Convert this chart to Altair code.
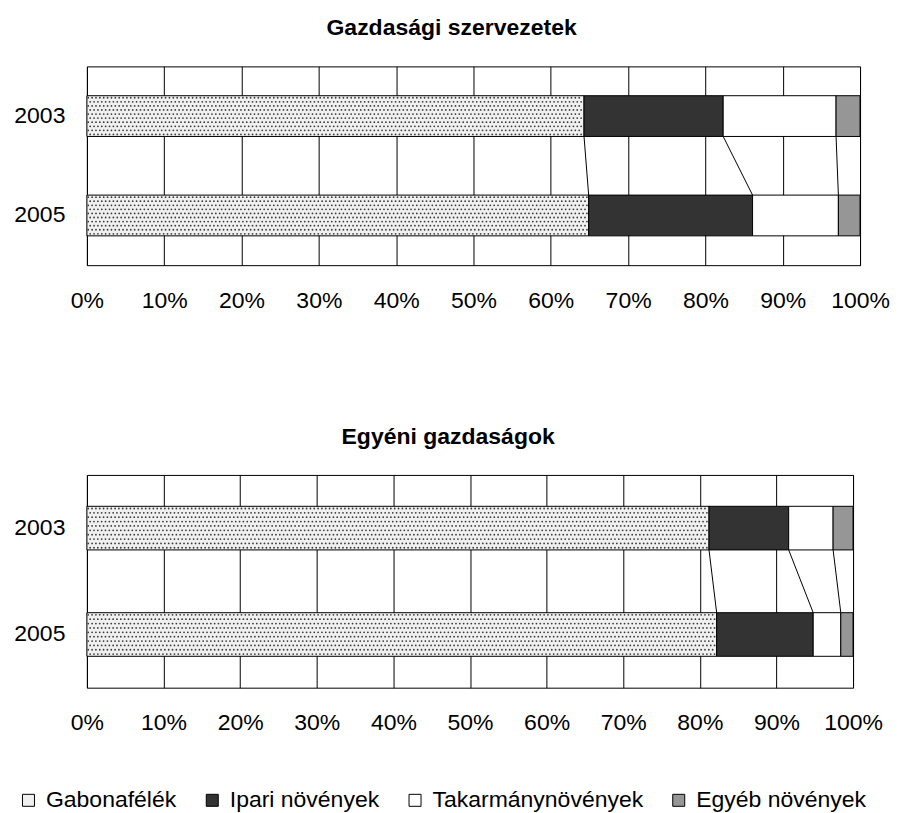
import altair as alt
import pandas as pd

series = ["Gabonafélék", "Ipari növények", "Takarmánynövények", "Egyéb növények"]
years = ["2003", "2005"]
colors = ["#f0f0f0", "#333333", "#ffffff", "#969696"]

# shares (%)
szerv_2003 = [64.3, 18.0, 14.6, 3.1]
szerv_2005 = [64.9, 21.2, 11.1, 2.8]
egyeni_2003 = [81.2, 10.4, 5.8, 2.6]
egyeni_2005 = [82.2, 12.6, 3.6, 1.6]

FONT = "Liberation Sans"
P_IN = 0.59   # band inner padding
P_OUT = P_IN / 2


def bars_table(v2003, v2005):
    rows = []
    for year, vals in zip(years, [v2003, v2005]):
        start = 0.0
        for i, (s, v) in enumerate(zip(series, vals)):
            rows.append({"year": year, "series": s, "order": i,
                         "start": start, "end": start + v})
            start += v
    return pd.DataFrame(rows)


def rules_table(bars):
    rows = []
    for s in series[:-1]:
        a = bars[(bars.year == "2003") & (bars.series == s)].end.iloc[0]
        b = bars[(bars.year == "2005") & (bars.series == s)].end.iloc[0]
        rows.append({"series": s, "x_from": a, "x_to": b,
                     "y_from": "2003", "y_to": "2005"})
    return pd.DataFrame(rows)


def dots_table(bars, step=0.5, nrows=10):
    # dotted texture of the first series (pattern fill); y in band units
    rows = []
    g = bars[bars.series == series[0]]
    for _, r in g.iterrows():
        idx = years.index(r.year)
        for row in range(nrows):
            yy = idx + P_OUT + (1 - P_IN) * (row + 0.5) / nrows
            x = r.start + step * (0.35 + 0.5 * (row % 2))
            while x < r.end - 0.15:
                rows.append({"year": r.year, "yy": yy, "x": x})
                x += step
    return pd.DataFrame(rows)


color = alt.Color(
    "series:N",
    scale=alt.Scale(domain=series, range=colors),
    legend=alt.Legend(
        orient="none", legendX=-70, legendY=723, direction="horizontal",
        title=None, symbolType="square", symbolSize=144,
        symbolStrokeColor="black", symbolStrokeWidth=1,
        labelFontSize=23, labelFont=FONT, labelColor="black", labelLimit=400,
        labelOffset=6, columnPadding=24, padding=0, symbolOpacity=1,
    ),
)


def panel(title, v2003, v2005, width, height):
    bars = bars_table(v2003, v2005)
    rules = rules_table(bars)
    dots = dots_table(bars)
    yscale = alt.Scale(domain=years, paddingInner=P_IN, paddingOuter=P_OUT)
    xscale = alt.Scale(domain=[0, 100], nice=False)
    xaxis = alt.Axis(values=list(range(0, 101, 10)), labelExpr="datum.value + '%'",
                     grid=True, gridColor="black", gridWidth=1, gridOpacity=1,
                     ticks=False, domain=False, labelFontSize=23, labelFont=FONT,
                     labelColor="black", labelPadding=24, labelFlush=False,
                     labelOverlap=False, title=None)
    yaxis = alt.Axis(title=None, ticks=False, domain=False, grid=False,
                     labelFontSize=23, labelFont=FONT, labelColor="black",
                     labelPadding=22)

    b = alt.Chart(bars).mark_bar(stroke="black", strokeWidth=1, opacity=1).encode(
        x=alt.X("start:Q", scale=xscale, axis=xaxis),
        x2="end:Q",
        y=alt.Y("year:N", scale=yscale, axis=yaxis, sort=years),
        color=color,
        order="order:Q",
    )
    r = alt.Chart(rules).mark_rule(color="black", strokeWidth=1).encode(
        x=alt.X("x_from:Q", scale=xscale),
        x2="x_to:Q",
        y=alt.Y("y_from:N", scale=yscale, bandPosition=1, sort=years),
        y2=alt.Y2("y_to:N", bandPosition=0),
    )
    d = alt.Chart(dots).mark_circle(size=3.2, color="#3a3a3a", opacity=1).encode(
        x=alt.X("x:Q", scale=xscale),
        y=alt.Y("yy:Q", scale=alt.Scale(domain=[0, len(years)], reverse=True, nice=False, zero=False),
                axis=None),
    )
    return alt.layer(alt.layer(b, r), d).resolve_scale(y="independent").properties(
        width=width, height=height,
        title=alt.TitleParams(title, fontSize=23, font=FONT, fontWeight="bold",
                              color="black", anchor="middle", frame="bounds", offset=26),
    )


top = panel("Gazdasági szervezetek", szerv_2003, szerv_2005, 774, 199)
bottom = panel("Egyéni gazdaságok", egyeni_2003, egyeni_2005, 767, 213)

chart = alt.vconcat(top, bottom, spacing=112).resolve_scale(color="shared").properties(
    padding={"left": 5, "top": 8, "right": 0, "bottom": 0},
    background="white",
).configure_view(stroke="black", strokeWidth=1)

chart.save("out.html", embed_options={"renderer": "svg", "actions": False})
